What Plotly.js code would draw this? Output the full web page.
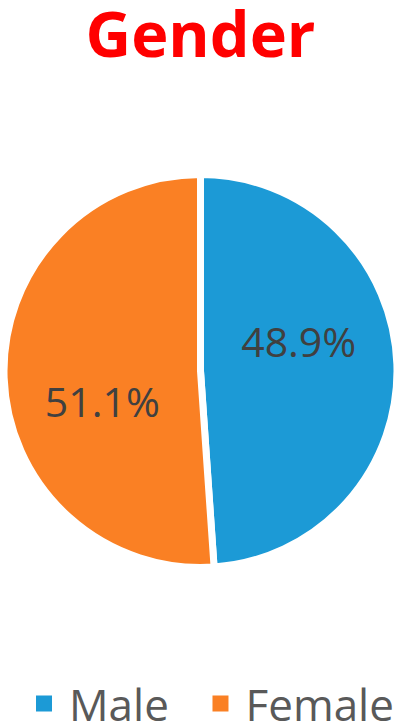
<!DOCTYPE html>
<html>
<head>
<meta charset="utf-8">
<script src="https://cdn.plot.ly/plotly-3.0.1.min.js"></script>
<style>html,body{margin:0;padding:0;background:#fff;}#chart{width:401px;height:726px;}</style>
</head>
<body>
<div id="chart"></div>
<script>
const labels = ["Male", "Female"];
const values = [48.9, 51.1];
const colors = ["#1c9ad6", "#fa8024"];
const titleText = "Gender";

const pieTrace = {
  type: "pie",
  labels: labels,
  values: values,
  sort: false,
  direction: "clockwise",
  rotation: 0,
  showlegend: false,
  marker: { colors: colors, line: { color: "#ffffff", width: 7 } },
  textinfo: "percent",
  texttemplate: ["%{percent:.1%}<br>\u00a0", "\u00a0<br>%{percent:.1%}"],
  textposition: "inside",
  insidetextorientation: "horizontal",
  insidetextfont: { family: "Open Sans", size: 41, color: "#404040" },
  hoverinfo: "label+percent",
  domain: { x: [0.01, 0.99], y: [0.2183, 0.7597] }
};

// legend entries (square swatches) for each category, one legend box each
const legendIds = ["legend", "legend2"];
const legendTraces = labels.map((lab, i) => ({
  type: "scatter",
  mode: "markers",
  x: [null],
  y: [null],
  name: lab,
  legend: legendIds[i],
  showlegend: true,
  hoverinfo: "skip",
  marker: { symbol: "square", size: 18, color: colors[i] }
}));

const legendBase = {
  orientation: "h",
  xanchor: "left",
  y: 0.0303, yanchor: "middle",
  font: { family: "Open Sans", size: 44, color: "#595959" },
  itemwidth: 40
};

const layout = {
  width: 401,
  height: 726,
  margin: { l: 0, r: 0, t: 0, b: 0, autoexpand: false },
  paper_bgcolor: "#ffffff",
  plot_bgcolor: "rgba(0,0,0,0)",
  xaxis: { visible: false },
  yaxis: { visible: false },
  title: {
    text: "<b>" + titleText + "</b>",
    font: { family: "Open Sans", size: 63, color: "#ff0000" },
    x: 0.5, xanchor: "center",
    y: 0.982, yanchor: "top"
  },
  showlegend: true,
  legend: Object.assign({}, legendBase, { x: 0.0474 }),
  legend2: Object.assign({}, legendBase, { x: 0.4875 })
};

Plotly.newPlot("chart", [pieTrace].concat(legendTraces), layout, { displayModeBar: false, staticPlot: true });
</script>
</body>
</html>
